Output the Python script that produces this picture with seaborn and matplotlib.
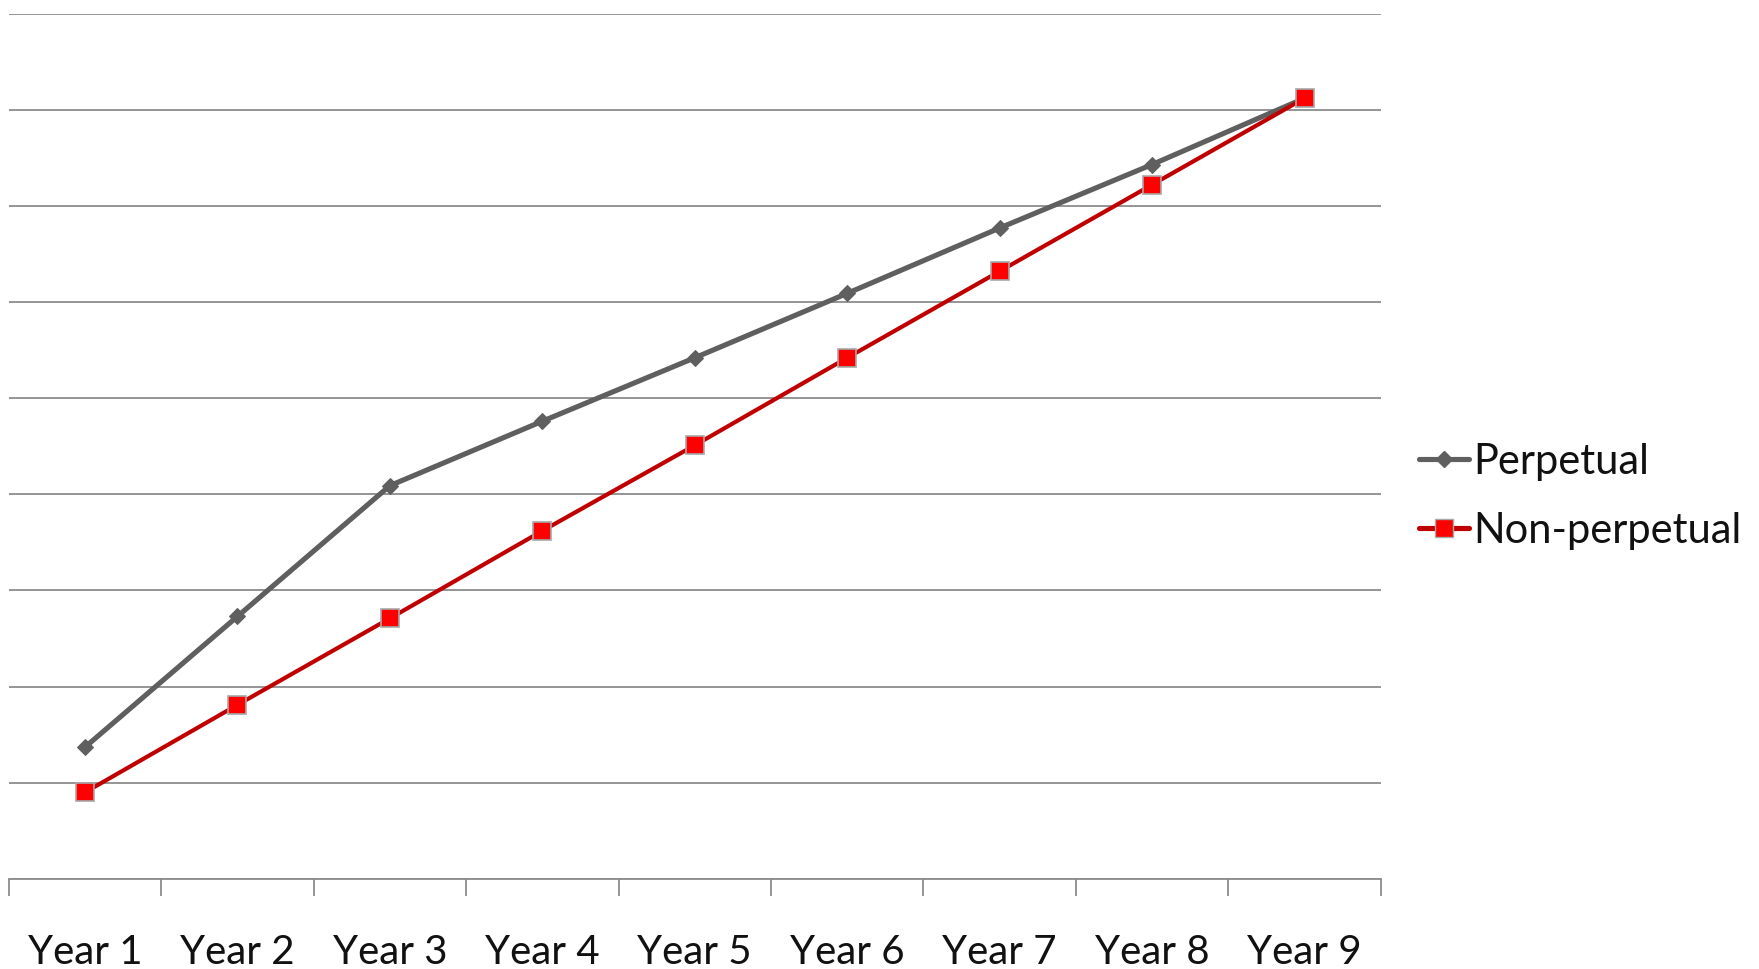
import numpy as np
import pandas as pd
import matplotlib
matplotlib.use("Agg")
import matplotlib.pyplot as plt
import seaborn as sns
from matplotlib.lines import Line2D

# ------------------------------------------------------------------
# Data (gridline units)
# ------------------------------------------------------------------
years = ["Year 1", "Year 2", "Year 3", "Year 4", "Year 5",
         "Year 6", "Year 7", "Year 8", "Year 9"]
perpetual = [1.37, 2.73, 4.09, 4.76, 5.42, 6.09, 6.77, 7.43, 8.12]
non_perpetual = [0.90, 1.81, 2.71, 3.62, 4.51, 5.42, 6.32, 7.22, 8.12]

pos = np.arange(len(years))
df = pd.DataFrame({
    "pos": np.concatenate([pos, pos]),
    "value": perpetual + non_perpetual,
    "series": ["Perpetual"] * len(years) + ["Non-perpetual"] * len(years),
})

GRAY_LINE = "#5f5f5f"
RED_LINE = "#c00000"
RED_MARK = "#ff0000"
GRID = "#8c8c8c"
TEXT = "#111111"

sns.set_theme(style="white")
plt.rcParams["font.family"] = ["Lato", "DejaVu Sans"]

fig = plt.figure(figsize=(17.59, 9.69), dpi=100)
ax = fig.add_axes([0.005, 0.093, 0.78, 0.893])

sns.lineplot(data=df[df["series"] == "Perpetual"], x="pos", y="value",
             color=GRAY_LINE, linewidth=3.7, marker="D", markersize=8,
             markerfacecolor=GRAY_LINE, markeredgecolor=GRAY_LINE,
             ax=ax, legend=False, zorder=3)
sns.lineplot(data=df[df["series"] == "Non-perpetual"], x="pos", y="value",
             color=RED_LINE, linewidth=3.0, marker="s", markersize=13,
             markerfacecolor=RED_MARK, markeredgecolor="#a8a8a8",
             markeredgewidth=1.2, ax=ax, legend=False, zorder=4)

# axes
ax.set_xlim(-0.5, len(years) - 0.5)
ax.set_ylim(0, 9)
ax.set_yticks(np.arange(0, 10))
ax.set_yticklabels([])
ax.yaxis.grid(True, color=GRID, linewidth=1.3)
ax.tick_params(axis="y", length=0)
ax.set_xticks(pos)
ax.set_xticklabels(years, fontsize=29, color=TEXT)
ax.set_xticks(np.arange(-0.5, len(years)), minor=True)
ax.tick_params(axis="x", which="major", length=0, pad=40)
ax.tick_params(axis="x", which="minor", bottom=True, length=12, width=1.3,
               color=GRID, direction="out")
ax.set_xlabel("")
ax.set_ylabel("")
for s in ["top", "left", "right"]:
    ax.spines[s].set_visible(False)
ax.spines["bottom"].set_color(GRID)
ax.spines["bottom"].set_linewidth(1.3)
ax.set_axisbelow(True)

handles = [
    Line2D([], [], color=GRAY_LINE, linewidth=3.7, marker="D", markersize=8,
           markerfacecolor=GRAY_LINE, markeredgecolor=GRAY_LINE),
    Line2D([], [], color=RED_LINE, linewidth=3.7, marker="s", markersize=13,
           markerfacecolor=RED_MARK, markeredgecolor="#a8a8a8"),
]
fig.legend(handles, ["Perpetual", "Non-perpetual"], loc="center left",
           bbox_to_anchor=(0.797, 0.488), frameon=False, fontsize=30,
           handlelength=1.2, handletextpad=0.1, labelspacing=0.75,
           borderaxespad=0, labelcolor=TEXT)

fig.savefig("out.png", dpi=100)
